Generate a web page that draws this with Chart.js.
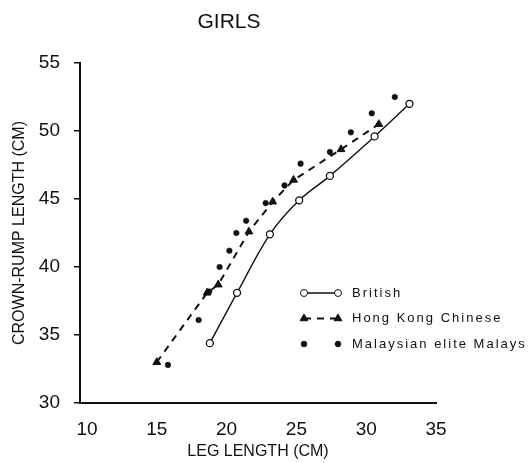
<!DOCTYPE html>
<html lang="en">
<head>
  <meta charset="UTF-8">
  <title>Girls - crown-rump length against leg length</title>
  <style>
    html, body { margin: 0; padding: 0; background: #fff; }
    #wrap { width: 532px; height: 463px; }
  </style>
</head>
<body>
  <div id="wrap">
    <canvas id="chart" width="532" height="463"></canvas>
  </div>

  <script src="https://cdn.jsdelivr.net/npm/chart.js@4/dist/chart.umd.min.js"></script>
  <script>
    // Axis ticks
    var xTicks = [10, 15, 20, 25, 30, 35];
    var yTicks = [30, 35, 40, 45, 50, 55];

    var chartTitle = "GIRLS";
    var xTitle = "LEG LENGTH (CM)";
    var yTitle = "CROWN-RUMP LENGTH (CM)";
    var seriesNames = ["British", "Hong Kong Chinese", "Malaysian elite Malays"];

    // British (open circles, solid line)
    var britishLeg = [18.8, 20.75, 23.1, 25.2, 27.4, 30.6, 33.1];
    var britishCrl = [34.4, 38.1, 42.4, 44.9, 46.7, 49.6, 52.0];

    // Hong Kong Chinese (triangles, dashed line)
    var hongKongLeg = [15.0, 18.6, 19.4, 21.6, 23.3, 24.8, 28.2, 30.9];
    var hongKongCrl = [33.0, 38.1, 38.7, 42.6, 44.8, 46.4, 48.65, 50.5];

    // Malaysian elite Malays (dots, no line)
    var malayLeg = [15.8, 18.0, 18.75, 19.5, 20.2, 20.7, 21.4, 22.8, 24.15, 25.3, 27.4, 28.9, 30.4, 32.05];
    var malayCrl = [32.8, 36.1, 38.2, 40.0, 41.2, 42.5, 43.4, 44.7, 46.0, 47.6, 48.45, 49.9, 51.3, 52.5];

    var INK = "#111";
    var FONT = "'Liberation Sans', 'DejaVu Sans', sans-serif";

    function toPoints(xs, ys) {
      var pts = [];
      for (var i = 0; i < xs.length; i++) {
        pts.push({ x: xs[i], y: ys[i] });
      }
      return pts;
    }

    /* Title and in-plot legend, drawn on the canvas */
    var panelText = {
      id: "panelText",
      afterDraw: function(chart, args, opts) {
        var ctx = chart.ctx;
        ctx.save();
        ctx.fillStyle = INK;
        ctx.strokeStyle = INK;

        // title
        ctx.font = "21px " + FONT;
        ctx.textAlign = "center";
        ctx.textBaseline = "middle";
        ctx.fillText(chartTitle, opts.titleX, opts.titleY);

        // legend rows
        ctx.textAlign = "left";
        ctx.font = "13px " + FONT;
        for (var i = 0; i < opts.order.length; i++) {
          var ds = chart.data.datasets[opts.order[i]];
          var y = opts.legendY + i * opts.rowGap;
          var x0 = opts.legendX, x1 = opts.legendX + 34;

          if (ds.showLine !== false) {
            ctx.save();
            ctx.lineWidth = ds.borderWidth;
            ctx.setLineDash(ds.borderDash || []);
            ctx.beginPath();
            ctx.moveTo(x0, y);
            ctx.lineTo(x1, y);
            ctx.stroke();
            ctx.restore();
          }
          [x0, x1].forEach(function(px) {
            ctx.fillStyle = ds.pointBackgroundColor;
            ctx.strokeStyle = INK;
            Chart.helpers.drawPoint(ctx, {
              pointStyle: ds.pointStyle,
              radius: ds.pointRadius,
              rotation: 0,
              borderWidth: ds.pointBorderWidth
            }, px, y);
          });

          ctx.fillStyle = INK;
          ctx.letterSpacing = "2px";
          ctx.fillText(seriesNames[opts.order[i]], x1 + 14, y);
          ctx.letterSpacing = "0px";
        }
        ctx.restore();
      }
    };

    var chart = new Chart(document.getElementById("chart"), {
      type: "scatter",
      data: {
        datasets: [{
          label: seriesNames[0],
          data: toPoints(britishLeg, britishCrl),
          showLine: true,
          borderColor: INK,
          borderWidth: 1.4,
          tension: 0.35,
          pointStyle: "circle",
          pointRadius: 3.5,
          pointBackgroundColor: "#fff",
          pointBorderColor: INK,
          pointBorderWidth: 1.3,
          order: 1
        }, {
          label: seriesNames[1],
          data: toPoints(hongKongLeg, hongKongCrl),
          showLine: true,
          borderColor: INK,
          borderWidth: 2,
          borderDash: [7, 6],
          pointStyle: "triangle",
          pointRadius: 4.5,
          pointBackgroundColor: INK,
          pointBorderColor: INK,
          pointBorderWidth: 1,
          order: 2
        }, {
          label: seriesNames[2],
          data: toPoints(malayLeg, malayCrl),
          showLine: false,
          pointStyle: "circle",
          pointRadius: 2.8,
          pointBackgroundColor: INK,
          pointBorderColor: INK,
          pointBorderWidth: 0.5,
          order: 0
        }]
      },
      options: {
        responsive: false,
        animation: false,
        layout: { padding: { left: 0, right: 96, top: 63, bottom: 0 } },
        plugins: {
          legend: { display: false },
          title: { display: false },
          tooltip: { enabled: false },
          panelText: {
            titleX: 229, titleY: 22,
            legendX: 304, legendY: 293, rowGap: 25.5,
            order: [0, 1, 2]
          }
        },
        scales: {
          x: {
            type: "linear",
            min: 9.5,
            max: 35,
            afterBuildTicks: function(scale) {
              scale.ticks = xTicks.map(function(v) { return { value: v }; });
            },
            afterFit: function(scale) { scale.height = 60; },
            grid: { display: false, drawTicks: false },
            border: { display: true, color: INK, width: 2 },
            ticks: {
              color: INK,
              padding: 15,
              maxRotation: 0,
              font: { family: FONT, size: 19 }
            },
            title: {
              display: true,
              text: xTitle,
              color: INK,
              font: { family: FONT, size: 16 },
              padding: { top: 0, bottom: 2 }
            }
          },
          y: {
            type: "linear",
            min: 30,
            max: 55,
            afterBuildTicks: function(scale) {
              scale.ticks = yTicks.map(function(v) { return { value: v }; });
            },
            afterFit: function(scale) { scale.width = 80; },
            grid: {
              display: true,
              drawOnChartArea: false,
              drawTicks: true,
              tickLength: 6,
              color: INK,
              lineWidth: 1.5
            },
            border: { display: true, color: INK, width: 2 },
            ticks: {
              color: INK,
              padding: 14,
              font: { family: FONT, size: 19 }
            },
            title: {
              display: true,
              text: yTitle,
              color: INK,
              font: { family: FONT, size: 16 },
              padding: { top: 10, bottom: 0 }
            }
          }
        }
      },
      plugins: [panelText]
    });
  </script>
</body>
</html>
